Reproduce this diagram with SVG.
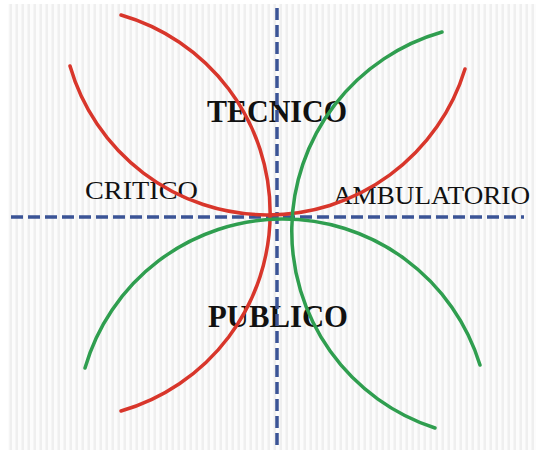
<svg xmlns="http://www.w3.org/2000/svg" width="542" height="450" viewBox="0 0 542 450">
<defs>
<pattern id="stripes" x="0" y="0" width="6" height="10" patternUnits="userSpaceOnUse">
<rect width="6" height="10" fill="#efefef"/>
<rect x="0" width="3.5" height="10" fill="#fcfcfc"/>
</pattern>
<style>
.lbl{font-family:"Liberation Serif","Times New Roman",serif;fill:#111}
.big{font-size:31px;font-weight:bold}
.small{font-size:25px}
.axis{stroke:#3b5496;stroke-width:3.5;stroke-dasharray:12 5;fill:none}
.red{stroke:#d8362b;stroke-width:3.5;fill:none;stroke-linecap:round}
.green{stroke:#2f9e4f;stroke-width:3.5;fill:none;stroke-linecap:round}
</style>
</defs>
<rect width="542" height="450" fill="#ffffff"/>
<rect x="8" y="4" width="528" height="446" fill="url(#stripes)"/>
<g id="labels">
<text id="tecnico" class="lbl big" x="277" y="122" text-anchor="middle" textLength="140" lengthAdjust="spacingAndGlyphs">TECNICO</text>
<text id="publico" class="lbl big" x="278" y="327" text-anchor="middle" textLength="140" lengthAdjust="spacingAndGlyphs">PUBLICO</text>
<text id="critico" class="lbl small" x="85" y="199" textLength="113" lengthAdjust="spacingAndGlyphs">CRITICO</text>
<text id="ambulatorio" class="lbl small" x="333" y="204" textLength="197" lengthAdjust="spacingAndGlyphs">AMBULATORIO</text>
</g>
<g id="connectors">
<line class="axis" x1="11" y1="217" x2="524" y2="217"/>
<line class="axis" x1="277" y1="8" x2="277" y2="450"/>
<path id="red-u" class="red" d="M70,66 A206,206 0 0 0 465,69"/>
<path id="red-arc" class="red" d="M121,15 A206,206 0 0 1 121,411"/>
<path id="green-arc" class="green" d="M442,32 A207,207 0 0 0 435,428"/>
<path id="green-n" class="green" d="M85,368 A206,206 0 0 1 480,365"/>
</g>
</svg>
